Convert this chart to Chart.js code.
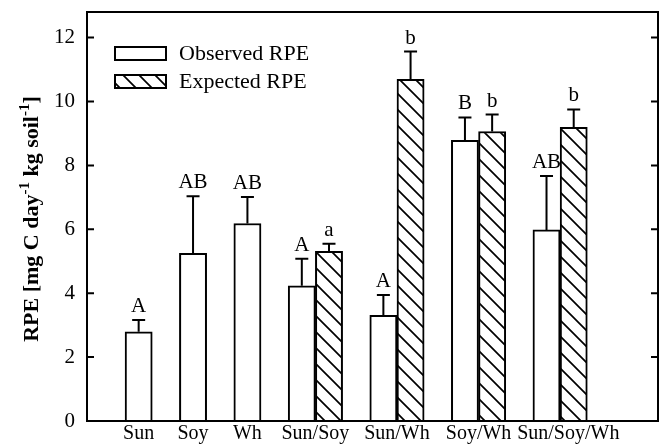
<!DOCTYPE html>
<html lang="en">
<head>
<meta charset="UTF-8">
<title>RPE</title>
<script src="https://cdn.jsdelivr.net/npm/chart.js"></script>
<style>
  html, body { margin: 0; padding: 0; background: #fff; }
  #wrap { width: 670px; height: 446px; }
</style>
</head>
<body>
<div id="wrap"><canvas id="rpeChart" width="670" height="446"></canvas></div>
<script>
// data
const groups = ['Sun', 'Soy', 'Wh', 'Sun/Soy', 'Sun/Wh', 'Soy/Wh', 'Sun/Soy/Wh'];
const observed = [2.79, 5.25, 6.18, 4.23, 3.31, 8.78, 5.98];
const observedErr = [0.37, 1.78, 0.83, 0.85, 0.63, 0.72, 1.69];
const observedLetters = ['A', 'AB', 'AB', 'A', 'A', 'B', 'AB'];
const expected = [null, null, null, 5.31, 10.69, 9.06, 9.19];
const expectedErr = [null, null, null, 0.24, 0.87, 0.53, 0.56];
const expectedLetters = [null, null, null, 'a', 'b', 'b', 'b'];
const yTicks = [0, 2, 4, 6, 8, 10, 12];

const SERIF = "'Liberation Serif', 'Times New Roman', serif";

// each group takes one slot per bar plus one empty slot
const centers = [];
const obsPoints = [];
const expPoints = [];
let slot = 0;
groups.forEach((g, i) => {
    const n = expected[i] == null ? 1 : 2;
    centers.push(slot + n / 2);
    obsPoints.push({ x: slot + 0.5, y: observed[i], err: observedErr[i], letter: observedLetters[i] });
    if (n === 2) {
        expPoints.push({ x: slot + 1.5, y: expected[i], err: expectedErr[i], letter: expectedLetters[i] });
    }
    slot += n + 1;
});
// the last label sits a little to the right in the original so it clears its neighbour
centers[centers.length - 1] += 0.3;

function makeHatch() {
    const c = document.createElement('canvas');
    c.width = 16; c.height = 16;
    const g = c.getContext('2d');
    g.fillStyle = '#fff';
    g.fillRect(0, 0, 16, 16);
    g.strokeStyle = '#000';
    g.lineWidth = 1.7;
    g.beginPath();
    g.moveTo(-2, -2); g.lineTo(18, 18);
    g.moveTo(-2, 14); g.lineTo(2, 18);
    g.moveTo(14, -2); g.lineTo(18, 2);
    g.stroke();
    return g.createPattern(c, 'repeat');
}
const hatch = makeHatch();

const decorations = {
    id: 'decorations',
    afterDatasetsDraw(chart) {
        const ctx = chart.ctx;
        const area = chart.chartArea;
        const x = chart.scales.x;
        const y = chart.scales.y;
        ctx.save();
        ctx.strokeStyle = '#000';
        ctx.fillStyle = '#000';

        // error bars and letters
        ctx.lineWidth = 2;
        ctx.font = '21px ' + SERIF;
        ctx.textAlign = 'center';
        ctx.textBaseline = 'alphabetic';
        chart.data.datasets.forEach(ds => {
            ds.data.forEach(p => {
                const px = x.getPixelForValue(p.x);
                const y0 = y.getPixelForValue(p.y);
                const y1 = y.getPixelForValue(p.y + p.err);
                ctx.beginPath();
                ctx.moveTo(px, y0);
                ctx.lineTo(px, y1);
                ctx.moveTo(px - 6.5, y1);
                ctx.lineTo(px + 6.5, y1);
                ctx.stroke();
                ctx.fillText(p.letter, px, y1 - 8);
            });
        });

        // frame with inward ticks on both sides
        ctx.lineWidth = 2;
        ctx.strokeRect(area.left, area.top, area.right - area.left, area.bottom - area.top);
        ctx.beginPath();
        yTicks.forEach(v => {
            const py = y.getPixelForValue(v);
            ctx.moveTo(area.left, py);
            ctx.lineTo(area.left + 7, py);
            ctx.moveTo(area.right, py);
            ctx.lineTo(area.right - 7, py);
        });
        ctx.stroke();

        // legend inside plot
        const lx = area.left + 28;
        let ly = area.top + 35;
        ctx.font = '22px ' + SERIF;
        ctx.textAlign = 'left';
        ctx.textBaseline = 'middle';
        chart.data.datasets.forEach(ds => {
            ctx.fillStyle = ds.backgroundColor;
            ctx.fillRect(lx, ly, 51, 13);
            ctx.lineWidth = 2;
            ctx.strokeRect(lx, ly, 51, 13);
            ctx.fillStyle = '#000';
            ctx.fillText(ds.label, lx + 64, ly + 7);
            ly += 28;
        });

        // y axis title with superscripts
        const parts = [
            ['RPE [mg C day', false], ['-1', true], [' kg soil', false], ['-1', true], [']', false]
        ];
        const big = 'bold 22px ' + SERIF;
        const small = 'bold 15px ' + SERIF;
        let total = 0;
        parts.forEach(([t, sup]) => { ctx.font = sup ? small : big; total += ctx.measureText(t).width; });
        ctx.translate(38, 219);
        ctx.rotate(-Math.PI / 2);
        ctx.textBaseline = 'alphabetic';
        let cx = -total / 2;
        parts.forEach(([t, sup]) => {
            ctx.font = sup ? small : big;
            ctx.fillText(t, cx, sup ? -9 : 0);
            cx += ctx.measureText(t).width;
        });
        ctx.restore();
    }
};

new Chart(document.getElementById('rpeChart'), {
    type: 'bar',
    data: {
        datasets: [
            {
                label: 'Observed RPE',
                data: obsPoints,
                backgroundColor: '#ffffff',
                borderColor: '#000000',
                borderWidth: 2
            },
            {
                label: 'Expected RPE',
                data: expPoints,
                backgroundColor: hatch,
                borderColor: '#000000',
                borderWidth: 2
            }
        ]
    },
    options: {
        responsive: false,
        animation: false,
        events: [],
        grouped: false,
        barPercentage: 1,
        categoryPercentage: 1,
        layout: { padding: { left: 0, right: 12, top: 12, bottom: 0 } },
        plugins: {
            legend: { display: false },
            tooltip: { enabled: false }
        },
        scales: {
            x: {
                type: 'linear',
                offset: false,
                min: -1.4,
                max: 19.6,
                grid: { display: false, drawTicks: false },
                border: { display: false },
                afterBuildTicks: s => { s.ticks = centers.map(v => ({ value: v })); },
                afterFit: s => { s.height = 25; s.paddingLeft = 0; s.paddingRight = 0; },
                ticks: {
                    autoSkip: false,
                    maxRotation: 0,
                    padding: 1,
                    color: '#000',
                    font: { family: SERIF, size: 20 },
                    callback: (v, i) => groups[i]
                }
            },
            y: {
                min: 0,
                max: 12.8,
                grid: { display: false, drawTicks: false },
                border: { display: false },
                afterBuildTicks: s => { s.ticks = yTicks.map(v => ({ value: v })); },
                afterFit: s => { s.width = 87; s.paddingTop = 0; s.paddingBottom = 0; },
                ticks: {
                    padding: 12,
                    color: '#000',
                    font: { family: SERIF, size: 21 }
                }
            }
        }
    },
    plugins: [decorations]
});
</script>
</body>
</html>
